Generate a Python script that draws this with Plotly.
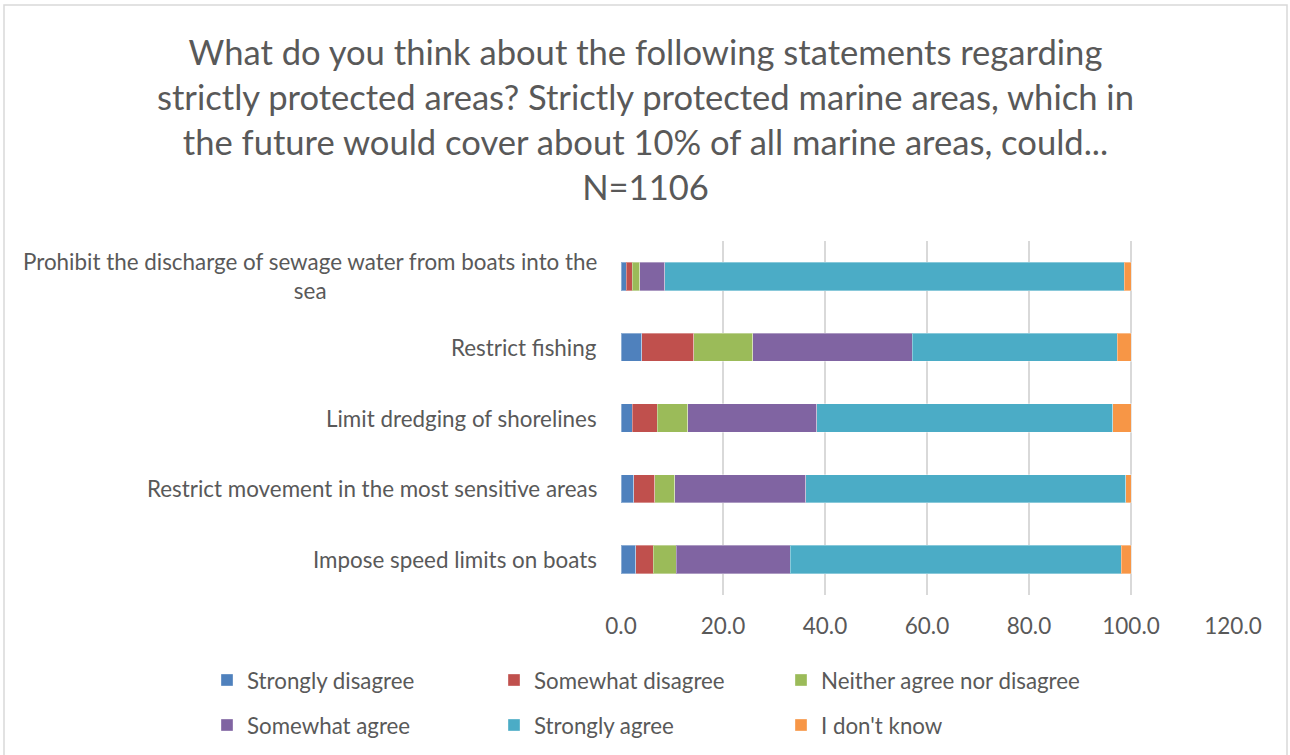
import plotly.graph_objects as go

categories = [
    "Prohibit the discharge of sewage water from boats into the<br>sea",
    "Restrict fishing",
    "Limit dredging of shorelines",
    "Restrict movement in the most sensitive areas",
    "Impose speed limits on boats",
]

series_names = [
    "Strongly disagree",
    "Somewhat disagree",
    "Neither agree nor disagree",
    "Somewhat agree",
    "Strongly agree",
    "I don't know",
]

strongly_disagree = [1.0, 4.1, 2.2, 2.5, 2.9]
somewhat_disagree = [1.2, 10.2, 4.9, 4.1, 3.4]
neither = [1.5, 11.5, 6.0, 3.9, 4.5]
somewhat_agree = [4.9, 31.3, 25.3, 25.7, 22.4]
strongly_agree = [90.1, 40.2, 58.0, 62.8, 64.9]
dont_know = [1.3, 2.7, 3.6, 1.0, 1.9]

colors = ["#4F81BD", "#C0504D", "#9BBB59", "#8064A2", "#4BACC6", "#F79646"]

x_ticks = [0, 20, 40, 60, 80, 100, 120]
x_tick_labels = ["0.0", "20.0", "40.0", "60.0", "80.0", "100.0", "120.0"]

title_text = ("What do you think about the following statements regarding<br>"
              "strictly protected areas? Strictly protected marine areas, which in<br>"
              "the future would cover about 10% of all marine areas, could...<br>"
              "N=1106")

FONT = "Lato"
TXT = "#595959"

values = [strongly_disagree, somewhat_disagree, neither, somewhat_agree, strongly_agree, dont_know]

fig = go.Figure()
for i, (name, vals, col) in enumerate(zip(series_names, values, colors)):
    fig.add_trace(go.Bar(
        y=categories, x=vals, name=name, orientation="h",
        marker=dict(color=col, line=dict(color="rgba(255,255,255,0.35)", width=1)),
        legend="legend" if i < 3 else "legend2",
    ))

# invisible spacer entry so the last text of the first legend row is not clipped
fig.add_trace(go.Bar(y=[None], x=[None], name=" ", orientation="h",
                     marker=dict(color="rgba(0,0,0,0)",
                                 line=dict(width=0, color="rgba(0,0,0,0)")),
                     hoverinfo="skip", legend="legend", showlegend=True))

W, H = 1290, 755
ml, mr, mt, mb = 621, 57, 241, 160
pw = W - ml - mr
ph = H - mt - mb


def px_x(p):
    return (p - ml) / pw


def px_y(p):
    return (H - mb - p) / ph


fig.update_layout(
    width=W, height=H,
    barmode="stack", bargap=0.6,
    plot_bgcolor="white", paper_bgcolor="white",
    margin=dict(l=ml, r=mr, t=mt, b=mb, autoexpand=False),
    font=dict(family=FONT, color=TXT, size=22),
    xaxis=dict(range=[0, 120], tickvals=x_ticks, ticktext=x_tick_labels,
               showgrid=True, gridcolor="#D9D9D9", gridwidth=2,
               zeroline=False, showline=False,
               ticks="outside", ticklen=11, tickcolor="rgba(0,0,0,0)",
               tickfont=dict(family=FONT, size=22.5, color=TXT), fixedrange=True),
    yaxis=dict(autorange="reversed", showticklabels=False, showgrid=False,
               zeroline=False, showline=False, fixedrange=True),
    legend=dict(orientation="h", x=px_x(207), xanchor="left",
                y=px_y(680), yanchor="middle", bgcolor="rgba(0,0,0,0)",
                entrywidth=242, entrywidthmode="pixels",
                font=dict(family=FONT, size=22.3, color=TXT), traceorder="normal"),
    legend2=dict(orientation="h", x=px_x(207), xanchor="left",
                 y=px_y(725), yanchor="middle", bgcolor="rgba(0,0,0,0)",
                 entrywidth=242, entrywidthmode="pixels",
                 font=dict(family=FONT, size=22.3, color=TXT), traceorder="normal"),
    showlegend=True,
)

fig.add_annotation(x=px_x(645), xref="paper", y=px_y(119), yref="paper",
                   text=title_text, xanchor="center", yanchor="middle",
                   align="center", showarrow=False,
                   font=dict(family=FONT, size=34.6, color=TXT))

for cat in categories:
    fig.add_annotation(x=0, xref="paper", y=cat, yref="y", text=cat,
                       xanchor="right", yanchor="middle", xshift=-22,
                       align="center", showarrow=False,
                       font=dict(family=FONT, size=22.4, color=TXT))

fig.add_shape(type="rect", xref="paper", yref="paper",
              x0=px_x(4), x1=px_x(1287),
              y0=px_y(770), y1=px_y(5),
              line=dict(color="#D9D9D9", width=1.5), fillcolor="rgba(0,0,0,0)",
              layer="above")

fig.write_html("out.html",
               config={"displayModeBar": False},
               post_script="document.body.style.margin='0';document.body.style.overflow='hidden';")
